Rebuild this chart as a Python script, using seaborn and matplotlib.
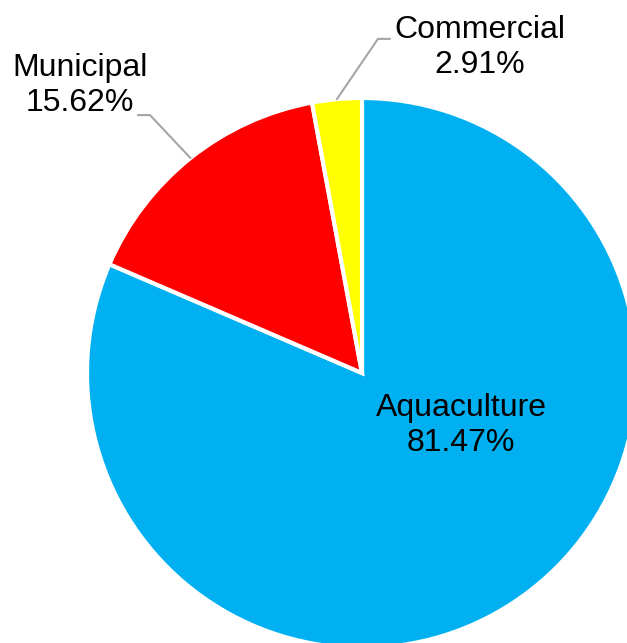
import matplotlib
matplotlib.use("Agg")
import matplotlib.pyplot as plt
import seaborn as sns
import numpy as np

categories = ["Aquaculture", "Municipal", "Commercial"]
values = [81.47, 15.62, 2.91]
colors = ["#00B0F0", "#FF0000", "#FFFF00"]

sns.set_theme(style="white")
plt.rcParams['font.family'] = ['Liberation Sans', 'DejaVu Sans']

W, H = 627, 643
fig = plt.figure(figsize=(W / 100, H / 100), dpi=100)
cx, cy, r = 362, 373, 275
ax = fig.add_axes([(cx - r) / W, (H - cy - r) / H, 2 * r / W, 2 * r / H])
wedges, _ = ax.pie(values, colors=colors, startangle=90, counterclock=False,
                   radius=1.0, wedgeprops=dict(edgecolor="white", linewidth=3))
ax.set_xlim(-1, 1)
ax.set_ylim(-1, 1)
ax.set_aspect("equal")
ax.axis("off")

fs = 23
ls = 1.22
labels = [f"{c}\n{v:.2f}%" for c, v in zip(categories, values)]

# Aquaculture: inside label
ax.text(0.36, -0.19, labels[0], ha="center", va="center", fontsize=fs,
        color="black", linespacing=ls)

def mid_point(w):
    a = np.deg2rad((w.theta1 + w.theta2) / 2)
    return np.cos(a), np.sin(a)

line_kw = dict(color="#A6A6A6", lw=1.5, clip_on=False)

# Municipal
x0, y0 = mid_point(wedges[1])
ax.plot([x0, -0.771, -0.815], [y0, 0.938, 0.938], **line_kw)
ax.text(-1.025, 1.045, labels[1], ha="center", va="center", fontsize=fs,
        color="black", linespacing=ls, clip_on=False)

# Commercial
x0, y0 = mid_point(wedges[2])
ax.plot([x0, 0.058, 0.102], [y0, 1.215, 1.215], **line_kw)
ax.text(0.429, 1.185, labels[2], ha="center", va="center", fontsize=fs,
        color="black", linespacing=ls, clip_on=False)

fig.savefig("out.png", dpi=100, facecolor="white")
